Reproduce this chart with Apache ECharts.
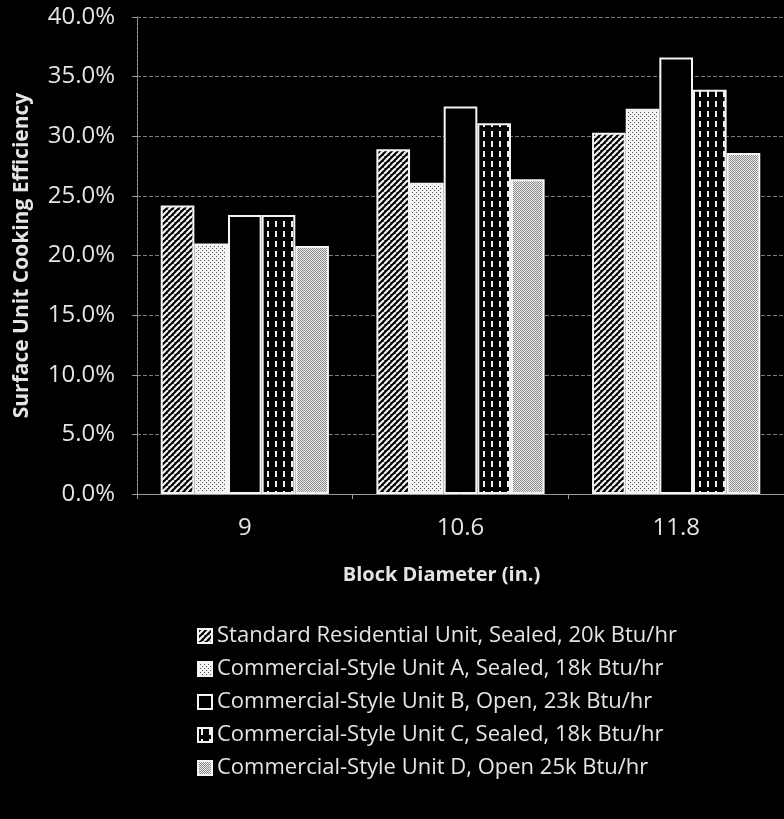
<!DOCTYPE html>
<html>
<head>
<meta charset="utf-8">
<script src="https://cdn.jsdelivr.net/npm/echarts@6/dist/echarts.min.js"></script>
<style>
  html, body { margin: 0; padding: 0; background: #000; }
  #chart { width: 784px; height: 819px; }
</style>
</head>
<body>
<div id="chart"></div>
<script>
// Block diameters (in.) on the category axis
var diameters = ['9', '10.6', '11.8'];

// Surface unit cooking efficiency (%) per unit type
var seriesNames = [
  'Standard Residential Unit, Sealed, 20k Btu/hr',
  'Commercial-Style Unit A, Sealed, 18k Btu/hr',
  'Commercial-Style Unit B, Open, 23k Btu/hr',
  'Commercial-Style Unit C, Sealed, 18k Btu/hr',
  'Commercial-Style Unit D, Open 25k Btu/hr'
];
var standardSealed20k = [24.2, 28.9, 30.3];
var unitASealed18k    = [21.0, 26.1, 32.3];
var unitBOpen23k      = [23.4, 32.5, 36.6];
var unitCSealed18k    = [23.4, 31.1, 33.9];
var unitDOpen25k      = [20.8, 26.4, 28.6];

// Y axis ticks (%)
var yTicks = [0, 5, 10, 15, 20, 25, 30, 35, 40];

// ---- fill patterns ----
function tile(w, h, draw) {
  var c = document.createElement('canvas');
  c.width = w; c.height = h;
  var ctx = c.getContext('2d');
  draw(ctx, w, h);
  return { image: c, repeat: 'repeat' };
}
var hatch = tile(6, 6, function (ctx, w, h) {
  ctx.fillStyle = '#000'; ctx.fillRect(0, 0, w, h);
  ctx.strokeStyle = '#f2f2f2'; ctx.lineWidth = 2.2;
  for (var k = -1; k <= 1; k++) {
    ctx.beginPath();
    ctx.moveTo(k * w, h); ctx.lineTo(k * w + w, 0);
    ctx.stroke();
  }
});
var dots = tile(4, 4, function (ctx, w, h) {
  ctx.fillStyle = '#f4f4f4'; ctx.fillRect(0, 0, w, h);
  ctx.fillStyle = '#505050';
  ctx.fillRect(0, 0, 1, 1);
  ctx.fillRect(2, 2, 1, 1);
});
var dashes = tile(8, 10, function (ctx, w, h) {
  ctx.fillStyle = '#000'; ctx.fillRect(0, 0, w, h);
  ctx.fillStyle = '#eeeeee';
  ctx.fillRect(3, 1, 2, 6);
});
var grain = tile(4, 4, function (ctx, w, h) {
  for (var y = 0; y < h; y++) {
    for (var x = 0; x < w; x++) {
      ctx.fillStyle = ((x + y) % 2 === 0) ? '#8a8a8a' : '#ececec';
      ctx.fillRect(x, y, 1, 1);
    }
  }
});

var fills = [hatch, dots, '#000000', dashes, grain];
var values = [standardSealed20k, unitASealed18k, unitBOpen23k, unitCSealed18k, unitDOpen25k];

var font = '"Open Sans", Lato, sans-serif';
var textColor = '#e4e4e4';

var series = seriesNames.map(function (name, i) {
  return {
    name: name,
    type: 'bar',
    barGap: '0%',
    barCategoryGap: '22%',
    data: values[i],
    itemStyle: { color: fills[i], borderColor: '#f4f4f4', borderWidth: 2 }
  };
});

var chart = echarts.init(document.getElementById('chart'), null, { renderer: 'canvas' });
chart.setOption({
  backgroundColor: '#000',
  animation: false,
  grid: { left: 137, right: -9, top: 17, bottom: 325, containLabel: false },
  xAxis: {
    type: 'category',
    data: diameters,
    name: 'Block Diameter (in.)',
    nameLocation: 'middle',
    nameGap: 71,
    nameTextStyle: {
      color: textColor, fontFamily: font, fontSize: 20, fontWeight: 'bold',
      padding: [0, 38, 0, 0]
    },
    axisLine: { show: true, lineStyle: { color: '#9a9a9a', width: 1 } },
    axisTick: { show: true, length: 5, lineStyle: { color: '#9a9a9a' } },
    axisLabel: { color: textColor, fontFamily: font, fontSize: 24, margin: 22 }
  },
  yAxis: {
    type: 'value',
    min: yTicks[0],
    max: yTicks[yTicks.length - 1],
    interval: 5,
    name: 'Surface Unit Cooking Efficiency',
    nameLocation: 'middle',
    nameGap: 104,
    nameRotate: 90,
    nameTextStyle: { color: textColor, fontFamily: font, fontSize: 21, fontWeight: 'bold' },
    axisLine: { show: true, lineStyle: { color: '#9a9a9a', width: 1, type: [3, 1] } },
    axisTick: { show: true, length: 5, lineStyle: { color: '#9a9a9a' } },
    axisLabel: {
      color: textColor, fontFamily: font, fontSize: 24, margin: 22,
      formatter: function (v) { return v.toFixed(1) + '%'; }
    },
    splitLine: { show: true, lineStyle: { color: '#7a7a7a', width: 1, type: [4, 2] } }
  },
  legend: {
    orient: 'vertical',
    left: 192,
    top: 620,
    itemWidth: 14,
    itemHeight: 14,
    itemGap: 11,
    icon: 'rect',
    textStyle: { color: textColor, fontFamily: font, fontSize: 22, lineHeight: 20 },
    data: seriesNames
  },
  series: series
});
</script>
</body>
</html>
